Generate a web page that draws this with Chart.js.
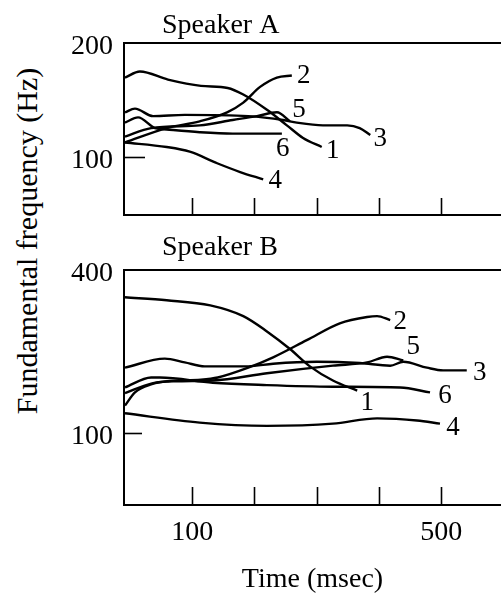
<!DOCTYPE html>
<html>
<head>
<meta charset="utf-8">
<script src="https://cdn.jsdelivr.net/npm/chart.js@4/dist/chart.umd.min.js"></script>
<style>
  html, body { margin: 0; padding: 0; background: #fff; }
  body { width: 501px; height: 594px; position: relative; overflow: hidden; }
  canvas { position: absolute; left: 0; }
  #cA { top: 0; }
  #cB { top: 230px; }
  #ytitle {
    position: absolute; left: 27px; top: 241px;
    transform: translate(-50%, -50%) rotate(-90deg);
    font: 30px "Liberation Serif", "Times New Roman", serif;
    color: #000; white-space: nowrap; line-height: 1;
  }
</style>
</head>
<body>
<div id="ytitle">Fundamental frequency (Hz)</div>
<canvas id="cA" width="501" height="230"></canvas>
<canvas id="cB" width="501" height="364"></canvas>
<script>
// ---------- data (time in msec, fundamental frequency in Hz) ----------
const curveNames = ['1', '2', '3', '4', '5', '6'];
const timeTicks = [100, 200, 300, 400, 500];
const timeTickLabels = ['100', '', '', '', '500'];
const freqTicksA = [100, 200];
const freqTicksB = [100, 400];

// Speaker A
const speakerA_1 = [[-8,162],[16,168],[61,160],[114,154],[157,152],[182,146],[220,133],[252,121],[278,112],[308,106]];
const speakerA_2 = [[-8,109],[59,119],[112,124],[156,131],[182,139],[209,153],[236,162],[260,164]];
const speakerA_3 = [[-8,131],[8,134],[37,128],[88,129],[190,128],[246,125],[268,123],[310,121],[349,121],[369,119],[386,114]];
const speakerA_4 = [[-8,109],[59,106],[96,103],[140,96],[177,91],[214,87]];
const speakerA_5 = [[-8,113],[34,119],[112,121],[165,125],[204,128],[236,131],[257,124]];
const speakerA_6 = [[-8,123],[13,127],[40,119],[59,118],[112,116],[165,115],[244,115]];

// Speaker B
const speakerB_1 = [[-8,317],[59,309],[129,296],[182,270],[220,237],[257,204],[289,176],[326,156],[365,143]];
const speakerB_2 = [[-8,126],[8,141],[34,151],[61,155],[114,157],[141,160],[190,174],[230,190],[284,220],[337,254],[381,268],[397,270],[418,261]];
const speakerB_3 = [[-8,174],[56,188],[88,182],[120,176],[190,176],[230,180],[300,183],[369,181],[418,177],[439,183],[477,174],[503,170],[541,170]];
const speakerB_4 = [[-8,118],[112,109],[220,106],[326,108],[397,113],[461,111],[498,108]];
const speakerB_5 = [[-8,140],[34,152],[72,155],[133,156],[220,166],[326,177],[381,182],[413,191],[439,185]];
const speakerB_6 = [[-8,147],[34,160],[48,160],[133,153],[220,150],[326,148],[434,147],[482,141]];

// ---------- presentation ----------
const SERIF = '"Liberation Serif", "Times New Roman", serif';
const labelOffsetsA = [[11,4],[12,0],[10,4],[12,2],[9,-11],[1,15]];
const labelOffsetsB = [[10,12],[10,2],[13,2],[13,4],[10,-14],[15,4]];

function toPts(arr) { return arr.map(p => ({ x: p[0], y: p[1] })); }
function makeDatasets(series) {
  return series.map((s, i) => ({
    label: curveNames[i],
    data: toPts(s),
    borderColor: '#000',
    borderWidth: 2.4,
    pointRadius: 0,
    fill: false,
    cubicInterpolationMode: 'monotone'
  }));
}

const decor = {
  id: 'decor',
  afterDatasetsDraw(chart, args, o) {
    const { ctx, chartArea, scales } = chart;
    ctx.save();
    ctx.strokeStyle = '#000';
    ctx.lineWidth = 1.6;
    o.xTicks.forEach(v => {
      const x = Math.round(scales.x.getPixelForValue(v)) + 0.5;
      ctx.beginPath();
      ctx.moveTo(x, chartArea.bottom);
      ctx.lineTo(x, chartArea.bottom - o.xLen);
      ctx.stroke();
    });
    o.yTicks.forEach(v => {
      const y = Math.round(scales.y.getPixelForValue(v)) + 0.5;
      ctx.beginPath();
      ctx.moveTo(chartArea.left, y);
      ctx.lineTo(chartArea.left + o.yLen, y);
      ctx.stroke();
    });
    ctx.fillStyle = '#000';
    ctx.font = '27px ' + SERIF;
    ctx.textAlign = 'center';
    ctx.textBaseline = 'middle';
    chart.data.datasets.forEach((ds, i) => {
      const last = ds.data[ds.data.length - 1];
      const px = scales.x.getPixelForValue(last.x);
      const py = scales.y.getPixelForValue(last.y);
      const off = o.labelOffsets[i];
      ctx.fillText(ds.label, px + off[0], py + off[1]);
    });
    ctx.font = '28px ' + SERIF;
    ctx.textAlign = 'left';
    ctx.textBaseline = 'alphabetic';
    ctx.fillText(o.title, chartArea.left + 38, chartArea.top + o.titleDy);
    ctx.restore();
  }
};

function makeChart(id, series, yMin, yMax, yTicks, opts) {
  return new Chart(document.getElementById(id), {
    type: 'line',
    data: { datasets: makeDatasets(series) },
    options: {
      responsive: false,
      animation: false,
      layout: { padding: { top: opts.padTop, bottom: opts.padBottom, left: 0, right: 0 } },
      plugins: {
        legend: { display: false },
        tooltip: { enabled: false },
        decor: {
          xTicks: timeTicks, yTicks: [100], xLen: opts.xLen, yLen: opts.yLen,
          labelOffsets: opts.labelOffsets, title: opts.title, titleDy: opts.titleDy
        }
      },
      scales: {
        x: {
          type: 'linear', position: 'bottom', min: -9.6, max: 596,
          afterBuildTicks: s => { s.ticks = timeTicks.map(v => ({ value: v })); },
          afterFit: s => { s.height = opts.xHeight; s.paddingLeft = 0; s.paddingRight = 0; },
          grid: { display: true, drawOnChartArea: false, drawTicks: false },
          border: { display: true, color: '#000', width: 2 },
          ticks: {
            display: opts.showX, autoSkip: false, maxRotation: 0, padding: 11,
            color: '#000', font: { family: SERIF, size: 28 },
            callback: (v, i) => timeTickLabels[i]
          },
          title: {
            display: opts.showX, text: 'Time (msec)', color: '#000',
            font: { family: SERIF, size: 28, lineHeight: 1 }, padding: 0
          }
        },
        xTop: {
          type: 'linear', position: 'top', min: -9.6, max: 596,
          afterFit: s => { s.height = 0; s.paddingLeft = 0; s.paddingRight = 0; },
          grid: { display: true, drawOnChartArea: false, drawTicks: false },
          border: { display: true, color: '#000', width: 2 },
          ticks: { display: false }
        },
        y: {
          type: 'logarithmic', position: 'left', min: yMin, max: yMax,
          afterBuildTicks: s => { s.ticks = yTicks.map(v => ({ value: v })); },
          afterFit: s => { s.width = 124; s.paddingTop = 0; s.paddingBottom = 0; },
          grid: { display: true, drawOnChartArea: false, drawTicks: false },
          border: { display: true, color: '#000', width: 2 },
          ticks: {
            padding: 11, labelOffset: 4, color: '#000', font: { family: SERIF, size: 28 },
            callback: v => String(v)
          }
        }
      }
    },
    plugins: [decor]
  });
}

makeChart('cA',
  [speakerA_1, speakerA_2, speakerA_3, speakerA_4, speakerA_5, speakerA_6],
  70, 200, freqTicksA,
  { padTop: 43, padBottom: 15, xHeight: 0, showX: false, xLen: 17, yLen: 21,
    labelOffsets: labelOffsetsA, title: 'Speaker A', titleDy: -10 });

makeChart('cB',
  [speakerB_1, speakerB_2, speakerB_3, speakerB_4, speakerB_5, speakerB_6],
  54, 400, freqTicksB,
  { padTop: 40, padBottom: 0, xHeight: 89, showX: true, xLen: 18, yLen: 18,
    labelOffsets: labelOffsetsB, title: 'Speaker B', titleDy: -15 });
</script>
</body>
</html>
